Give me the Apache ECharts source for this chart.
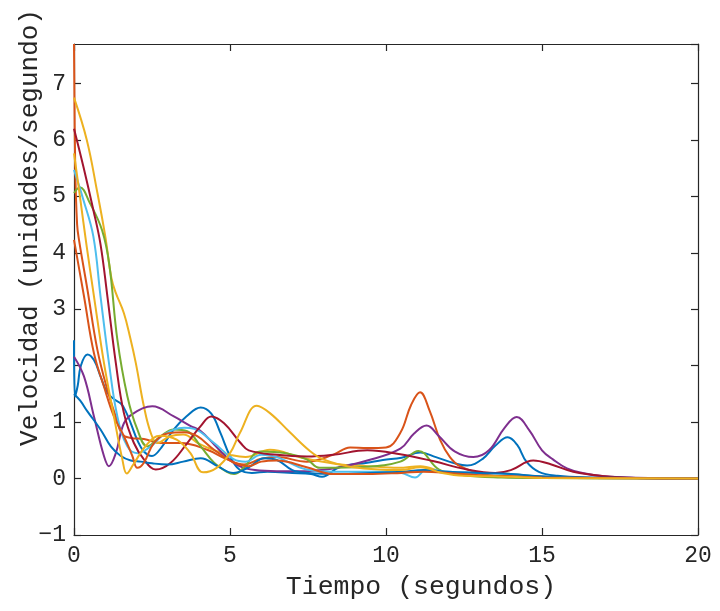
<!DOCTYPE html>
<html>
<head>
<meta charset="utf-8">
<script src="https://cdn.jsdelivr.net/npm/echarts@6/dist/echarts.min.js"></script>
<style>html,body{margin:0;padding:0;background:#fff}#c{width:720px;height:611px}</style>
</head>
<body>
<div id="c"></div>
<script>
const xTicks = [0, 5, 10, 15, 20];
const yTicks = [-1, 0, 1, 2, 3, 4, 5, 6, 7];
const xTitle = 'Tiempo (segundos)';
const yTitle = 'Velocidad (unidades/segundo)';
const colors = ['#0072BD','#D95319','#EDB120','#7E2F8E','#77AC30','#4DBEEE','#A2142F','#0072BD','#D95319','#EDB120'];

const s1 = [[0,2.45],[0.03,1.45],[0.12,1.65],[0.22,2.0],[0.43,2.2],[0.64,2.1],[0.85,1.81],[1.07,1.52],[1.3,1.4],[1.5,1.33],[1.65,1.2],[1.82,0.98],[2.03,0.68],[2.24,0.48],[2.5,0.4],[2.8,0.55],[3.2,0.87],[3.6,1.1],[4.06,1.26],[4.4,1.15],[4.7,0.8],[5.0,0.4],[5.3,0.16],[5.7,0.1],[6.2,0.12],[7.0,0.1],[7.6,0.08],[7.95,0.03],[8.5,0.2],[9.4,0.28],[9.9,0.33],[10.5,0.37],[11.1,0.46],[11.6,0.38],[12.2,0.27],[12.6,0.23],[13.1,0.35],[13.5,0.58],[13.9,0.73],[14.2,0.6],[14.5,0.3],[14.9,0.12],[15.5,0.05],[16.5,0.02],[18,0.01],[20,0]];
const s2 = [[0,7.7],[0.04,5.5],[0.1,4.5],[0.16,4.23],[0.43,3.35],[0.75,2.28],[1.07,1.57],[1.34,1.1],[1.55,0.78],[1.82,0.72],[2.24,0.7],[2.78,0.63],[3.42,0.63],[4.27,0.51],[4.91,0.34],[5.45,0.25],[6.0,0.35],[6.5,0.38],[7.46,0.3],[8.3,0.42],[8.85,0.55],[9.4,0.54],[10.0,0.55],[10.46,0.81],[10.8,1.3],[11.09,1.53],[11.4,1.2],[11.73,0.69],[12.05,0.38],[12.37,0.22],[13.2,0.07],[14,0.04],[15,0.02],[20,0]];
const s3 = [[0,6.75],[0.41,6.0],[0.73,5.12],[1.0,4.3],[1.2,3.55],[1.34,3.29],[1.6,2.93],[1.8,2.5],[1.98,2.05],[2.24,1.28],[2.46,0.81],[2.67,0.63],[3.08,0.75],[3.5,0.78],[4.0,0.62],[4.5,0.5],[5.0,0.42],[5.5,0.38],[6.28,0.51],[7.3,0.37],[8.4,0.26],[9.4,0.22],[10.4,0.19],[11.1,0.22],[11.8,0.12],[12.5,0.08],[13.5,0.1],[14,0.08],[15,0.03],[16,0.01],[20,0]];
const s4 = [[0,2.16],[0.32,1.81],[0.64,1.1],[0.96,0.4],[1.12,0.22],[1.34,0.45],[1.6,0.98],[1.92,1.16],[2.51,1.28],[3.2,1.1],[3.74,0.93],[4.04,0.85],[4.5,0.6],[4.89,0.38],[5.3,0.22],[5.8,0.15],[6.5,0.13],[7.24,0.13],[8.3,0.18],[9.4,0.32],[10.46,0.53],[10.9,0.8],[11.3,0.94],[11.7,0.75],[12.2,0.48],[12.8,0.38],[13.3,0.5],[13.8,0.9],[14.19,1.09],[14.6,0.85],[15.0,0.5],[15.35,0.34],[15.8,0.18],[16.3,0.1],[17,0.04],[18,0.015],[20,0]];
const s5 = [[0,5.06],[0.19,5.16],[0.51,4.88],[0.9,4.4],[1.13,3.8],[1.39,2.46],[1.71,1.46],[2.03,0.87],[2.35,0.57],[2.78,0.75],[3.2,0.87],[3.63,0.84],[4.06,0.57],[4.49,0.28],[4.9,0.12],[5.13,0.08],[5.45,0.2],[5.96,0.48],[6.8,0.45],[7.46,0.34],[7.88,0.19],[9.4,0.21],[10.46,0.3],[11.04,0.49],[11.7,0.16],[12.5,0.06],[13.7,0.02],[15,0.01],[20,0]];
const s6 = [[0,5.47],[0.3,4.94],[0.62,4.29],[0.85,3.23],[1.12,2.05],[1.39,1.1],[1.71,0.57],[2.03,0.45],[2.46,0.57],[2.88,0.78],[3.53,0.9],[3.85,0.88],[4.49,0.63],[5.13,0.34],[5.5,0.3],[6.0,0.42],[6.5,0.38],[7.46,0.16],[8.3,0.12],[9.9,0.12],[10.5,0.1],[10.93,0.02],[11.3,0.16],[12,0.12],[13,0.1],[14,0.08],[15,0.03],[16,0.01],[20,0]];
const s7 = [[0,6.2],[0.3,5.53],[0.62,4.76],[0.85,4.15],[1.07,3.23],[1.34,2.05],[1.6,1.16],[1.92,0.63],[2.24,0.34],[2.62,0.16],[3.1,0.28],[3.63,0.63],[4.06,0.93],[4.4,1.1],[4.81,0.98],[5.34,0.63],[5.6,0.5],[6.5,0.42],[7.46,0.39],[8.3,0.42],[9.4,0.5],[10.46,0.43],[11.5,0.31],[12.6,0.16],[13.5,0.1],[14.0,0.15],[14.72,0.32],[15.3,0.25],[16,0.12],[17,0.04],[18,0.01],[20,0]];
const s8 = [[0,1.5],[0.2,1.38],[0.43,1.19],[0.85,0.87],[1.18,0.57],[1.5,0.4],[1.82,0.32],[2.14,0.3],[2.5,0.27],[3.0,0.25],[3.5,0.3],[4.06,0.36],[4.6,0.22],[5.1,0.1],[5.6,0.2],[6.1,0.36],[6.5,0.33],[7.0,0.15],[7.5,0.1],[8.5,0.08],[9.5,0.1],[10.5,0.12],[11.2,0.15],[12,0.12],[13,0.1],[14,0.08],[15,0.04],[16,0.02],[18,0.01],[20,0]];
const s9 = [[0,4.23],[0.32,3.23],[0.64,2.22],[0.96,1.63],[1.28,1.1],[1.6,0.75],[1.87,0.4],[2.03,0.19],[2.24,0.28],[2.56,0.63],[2.99,0.8],[3.53,0.82],[3.95,0.75],[4.49,0.51],[5.13,0.28],[5.6,0.22],[6.0,0.3],[6.5,0.32],[7.46,0.2],[8.3,0.08],[9.4,0.08],[10.5,0.1],[11.2,0.12],[12,0.1],[13,0.06],[14,0.04],[15,0.02],[20,0]];
const s10 = [[0,5.76],[0.19,5.0],[0.41,4.1],[0.64,3.23],[0.96,2.05],[1.28,1.1],[1.55,0.34],[1.69,0.09],[1.9,0.25],[2.33,0.6],[2.76,0.76],[3.29,0.69],[3.72,0.46],[4.14,0.11],[4.57,0.19],[5.0,0.45],[5.32,0.81],[5.86,1.29],[6.28,1.16],[6.92,0.82],[7.56,0.49],[7.99,0.34],[8.95,0.2],[10.45,0.15],[11.1,0.2],[11.8,0.1],[12.5,0.05],[13.5,0.04],[14,0.03],[15,0.01],[20,0]];
const allSeries = [s1,s2,s3,s4,s5,s6,s7,s8,s9,s10];

const axisCol = '#262626';
const font = 'Liberation Mono';
const chart = echarts.init(document.getElementById('c'), null, {renderer:'canvas'});
const frame = {show:true, onZero:false, lineStyle:{color:axisCol, width:1.2}};
const ticks = {show:true, inside:true, length:7, lineStyle:{color:axisCol, width:1.2}};
chart.setOption({
  animation:false,
  backgroundColor:'#fff',
  grid:{left:74, right:22, top:44, bottom:76, containLabel:false, outerBoundsMode:'none'},
  xAxis:[{
    type:'value', min:0, max:20, interval:5, position:'bottom',
    axisLine:frame, axisTick:ticks, splitLine:{show:false},
    axisLabel:{color:axisCol, fontFamily:font, fontSize:23, margin:9,
      formatter:v=>xTicks.includes(v)?String(v):''},
    name:xTitle, nameLocation:'middle', nameGap:38, nameMoveOverlap:false,
    nameTextStyle:{color:axisCol, fontFamily:font, fontSize:26.5, padding:[0,0,0,70]}
  },{
    type:'value', min:0, max:20, interval:5, position:'top',
    axisLine:frame, axisTick:ticks, axisLabel:{show:false}, splitLine:{show:false}
  }],
  yAxis:[{
    type:'value', min:-1, max:7.7, interval:1, position:'left',
    axisLine:frame, axisTick:ticks, splitLine:{show:false},
    axisLabel:{color:axisCol, fontFamily:font, fontSize:23, margin:8, showMaxLabel:false,
      formatter:v=>yTicks.includes(v)?(v<0?'\u2212'+Math.abs(v):String(v)):''},
    name:yTitle, nameLocation:'middle', nameGap:31, nameMoveOverlap:false,
    nameTextStyle:{color:axisCol, fontFamily:font, fontSize:26, padding:[0,0,0,124]}
  },{
    type:'value', min:-1, max:7.7, interval:1, position:'right',
    axisLine:frame, axisTick:ticks, axisLabel:{show:false}, splitLine:{show:false}
  }],
  series: allSeries.map((d,i)=>({
    type:'line', data:d, smooth:0.4, showSymbol:false, symbol:'none',
    lineStyle:{color:colors[i], width:2}, itemStyle:{color:colors[i]}, clip:true
  }))
});
</script>
</body>
</html>
